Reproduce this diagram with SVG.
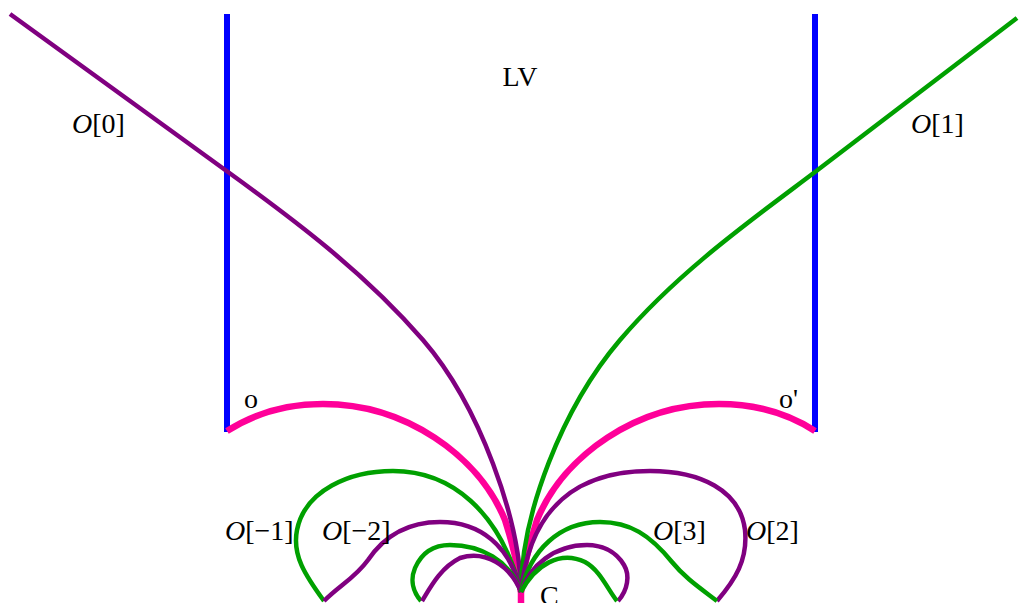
<svg xmlns="http://www.w3.org/2000/svg" width="1019" height="603" viewBox="0 0 1019 603">
<style>
.t{font-family:"Liberation Serif","Times New Roman",serif;font-size:28px;fill:#000}
.i{font-style:italic}
.c{fill:none;stroke-linecap:butt;stroke-linejoin:round}
.pu{stroke:#800080;stroke-width:4.5}
.gr{stroke:#00a000;stroke-width:4.5}
.pk{stroke:#ff0099;stroke-width:6.5}
.bl{stroke:#0000ff;stroke-width:6}
</style>
<rect width="1019" height="603" fill="#fff"/>
<g id="walls">
<line class="c bl" x1="227" y1="14" x2="227" y2="432"/>
<line class="c bl" x1="815" y1="14" x2="815" y2="432"/>
</g>
<g id="connectors">
<path class="c pk" d="M227,431 C255,413 288,404 323,404 C405,404 478,455 505,520 C514,548 519,570 521,592"/>
<path class="c pk" d="M815,431 C787,413 754,404 719,404 C637,404 564,455 537,520 C528,548 523,570 521,592"/>
<line class="c pk" x1="521" y1="588" x2="521" y2="603"/>
<path class="c pu" d="M10,14 C83,67 155,119 228,172 C293,219 363,271 423,340 C480,406 520,520 521,592"/>
<path class="c gr" d="M1017,18 C950,69 882,121 815,172 C750,221 678,272 620,340 C562,408 521,515 521,592"/>
<path class="c gr" d="M324,601 C305,575 292,555 297,530 C305,490 350,471 393,471 C450,471 500,510 521,592"/>
<path class="c pu" d="M324,601 C340,585 355,578 368,560 C385,535 410,522 440,522 C480,522 510,545 521,592"/>
<path class="c gr" d="M421,601 C413,592 410,580 415,568 C422,552 435,545 450,545 C480,545 510,560 521,592"/>
<path class="c pu" d="M422,601 C430,588 440,568 460,558 C485,550 510,565 521,592"/>
<path class="c pu" d="M717,601 C735,580 748,560 745,530 C740,490 700,471 650,471 C580,471 530,505 521,592"/>
<path class="c gr" d="M717,601 C700,588 685,578 672,562 C650,535 630,522 600,522 C560,522 530,550 521,592"/>
<path class="c pu" d="M618,601 C628,590 630,575 624,565 C615,550 600,545 587,545 C555,545 530,565 521,592"/>
<path class="c gr" d="M617,601 C608,590 600,570 585,562 C560,550 535,565 521,592"/>
</g>
<g id="label-LV"><text class="t" x="520" y="86" text-anchor="middle">LV</text></g>
<g id="label-O0"><text class="t" x="72" y="133"><tspan class="i">O</tspan>[0]</text></g>
<g id="label-O1"><text class="t" x="911" y="133"><tspan class="i">O</tspan>[1]</text></g>
<g id="label-o"><text class="t" x="244" y="408">o</text></g>
<g id="label-o-prime"><text class="t" x="779" y="408">o'</text></g>
<g id="label-C"><text class="t" x="540" y="605">C</text></g>
<g id="label-Om1"><text class="t" x="225" y="540"><tspan class="i">O</tspan>[−1]</text></g>
<g id="label-Om2"><text class="t" x="322" y="540"><tspan class="i">O</tspan>[−2]</text></g>
<g id="label-O3"><text class="t" x="653" y="540"><tspan class="i">O</tspan>[3]</text></g>
<g id="label-O2"><text class="t" x="746" y="540"><tspan class="i">O</tspan>[2]</text></g>
</svg>
